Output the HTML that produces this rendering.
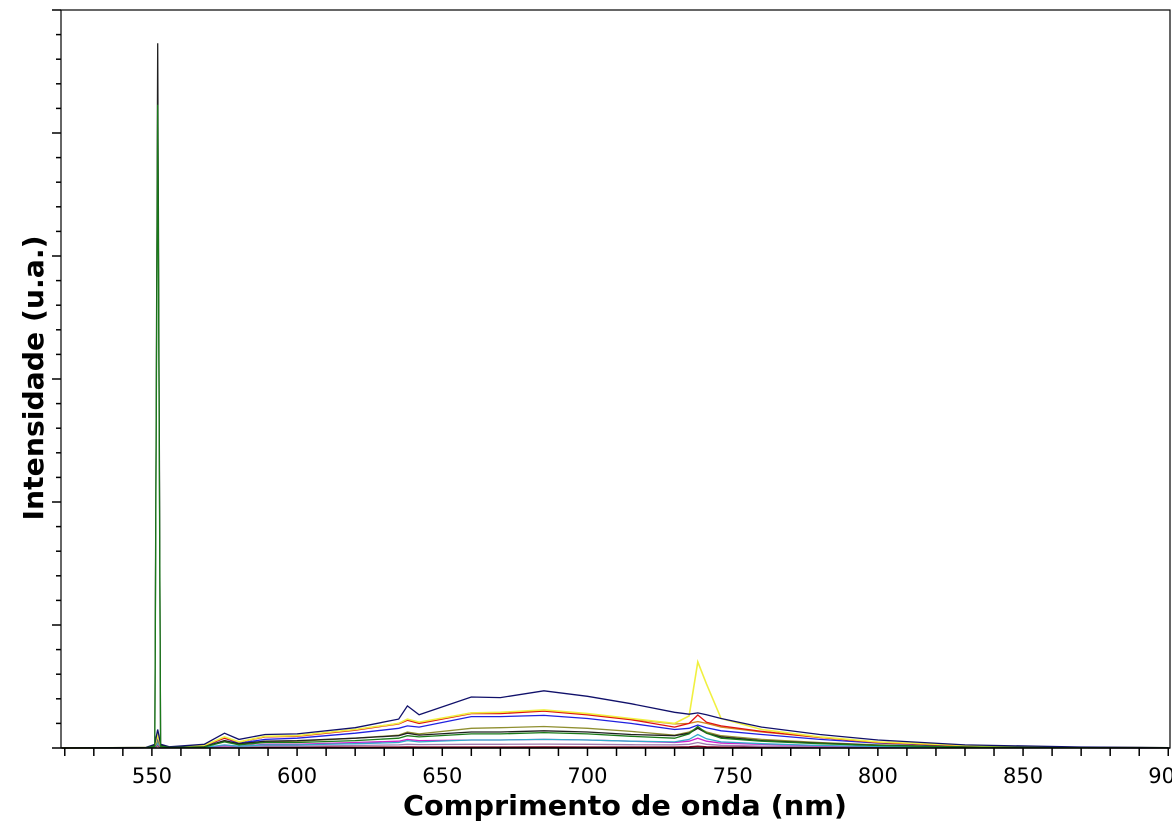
<!DOCTYPE html>
<html><head><meta charset="utf-8"><style>
html,body{margin:0;padding:0;background:#fff;}
svg{display:block;}
</style></head><body>
<svg id="chart" width="1172" height="823" xmlns="http://www.w3.org/2000/svg" font-family="'DejaVu Sans', 'Liberation Sans', sans-serif">
<g id="series"></g>
<g id="axes"></g>
<text x="625" y="815" text-anchor="middle" font-size="28" font-weight="bold" textLength="444" lengthAdjust="spacingAndGlyphs">Comprimento de onda (nm)</text>
<text transform="translate(43,378) rotate(-90)" text-anchor="middle" font-size="28" font-weight="bold" textLength="285" lengthAdjust="spacingAndGlyphs">Intensidade (u.a.)</text>
</svg>
<script>
const wavelengths = [519,548,551,552,553,556,568,575,580,589,600,620,635,638,642,660,670,685,700,715,730,735,738,741,746,760,780,800,830,870,900];
const navy = [0,5,30,150,30,10,30,120,70,110,115,165,235,342,270,415,410,465,420,360,290,275,285,270,240,170,110,65,25,8,3];
const yellow = [0,3,20,100,20,8,20,90,50,95,100,150,200,235,210,285,290,310,280,240,200,260,700,520,240,150,90,50,20,5,2];
const orange = [0,3,20,100,20,8,20,85,50,90,100,150,200,228,205,285,285,305,275,235,195,200,215,200,170,130,85,45,18,5,2];
const red = [0,3,20,100,20,8,20,80,50,90,95,145,195,225,200,280,280,300,270,230,170,200,268,210,180,135,85,45,18,5,2];
const blue = [0,3,15,80,15,5,15,80,40,70,80,120,160,180,170,255,255,265,240,200,150,160,187,165,140,110,70,40,15,4,1];
const olive = [0,2,10,60,10,4,10,55,30,50,55,80,105,130,115,160,165,175,160,135,105,130,165,130,100,70,45,25,10,3,1];
const cyan = [0,1,8,40,8,3,5,25,15,25,25,35,45,60,50,65,65,70,65,55,50,70,110,75,50,35,20,12,5,2,0];
const magenta = [0,1,8,40,8,3,5,20,15,30,30,45,55,70,60,65,65,70,65,55,45,55,80,55,40,30,18,10,4,1,0];
const purple = [0,1,5,30,5,2,3,10,8,15,15,20,25,30,28,30,30,32,30,27,25,30,45,30,22,15,10,6,3,1,0];
const darkred = [0,1,3,20,3,1,2,4,4,6,6,7,8,9,8,8,8,9,8,8,8,10,15,10,8,6,4,3,2,1,0];
const black = [0,2,20,5730,20,4,10,60,35,55,60,80,100,120,105,130,130,140,130,110,100,120,160,120,90,60,40,22,8,2,1];
const green = [0,2,15,5230,15,4,8,50,25,45,45,60,80,100,90,115,115,125,115,95,80,115,175,120,80,55,35,20,8,2,1];
const xTickLabels = [550,600,650,700,750,800,850,900];

const X0=61, X1=1170, Y0=748, Y1=10;
const xMin=518.7, xMax=900.6, yMin=0, yMax=6000;
const xs = v => X0 + (v-xMin)/(xMax-xMin)*(X1-X0);
const ys = v => Y0 - (v-yMin)/(yMax-yMin)*(Y0-Y1);
const NS="http://www.w3.org/2000/svg";
const sg=document.getElementById('series');
const ax=document.getElementById('axes');

const seriesList = [
 ['series-dark-red',darkred,'#800020'],
 ['series-purple',purple,'#a07ab0'],
 ['series-magenta',magenta,'#cc22cc'],
 ['series-cyan',cyan,'#33aacc'],
 ['series-olive',olive,'#8f8f30'],
 ['series-blue',blue,'#2020e0'],
 ['series-orange',orange,'#d08820'],
 ['series-red',red,'#e01010'],
 ['series-yellow',yellow,'#f0f040'],
 ['series-navy',navy,'#10106a'],
 ['series-black',black,'#202020'],
 ['series-green',green,'#1a7a1a']
];
for (const [nm,vals,col] of seriesList){
  const p=document.createElementNS(NS,'polyline');
  
  
  p.setAttribute('points', vals.map((v,i)=>xs(wavelengths[i]).toFixed(1)+','+ys(v).toFixed(1)).join(' '));
  p.setAttribute('fill','none');
  p.setAttribute('stroke',col);
  p.setAttribute('stroke-width', nm==='series-yellow'?'1.6':'1.3');
  sg.appendChild(p);
}

function line(x1,y1,x2,y2,name){
  const l=document.createElementNS(NS,'line');
  
  
  l.setAttribute('x1',x1);l.setAttribute('y1',y1);l.setAttribute('x2',x2);l.setAttribute('y2',y2);
  l.setAttribute('stroke','#000');l.setAttribute('stroke-width','1.5');
  ax.appendChild(l);
}
const r=document.createElementNS(NS,'rect');


r.setAttribute('x',X0);r.setAttribute('y',Y1);r.setAttribute('width',X1-X0);r.setAttribute('height',Y0-Y1);
r.setAttribute('fill','none');r.setAttribute('stroke','#000');r.setAttribute('stroke-width','1.2');
ax.appendChild(r);
line(X0,Y0,X1,Y0,'x-axis-line');
for(let w=520; w<=900; w+=10){
  line(xs(w),Y0,xs(w),Y0+8,'x-tick');
}
for(const t of xTickLabels){
  const tx=document.createElementNS(NS,'text');
  
  
  tx.setAttribute('x',xs(t));tx.setAttribute('y',783);
  tx.setAttribute('text-anchor','middle');tx.setAttribute('font-size','21');
  tx.textContent=t;
  ax.appendChild(tx);
}
for(let i=0;i<=30;i++){
  const v=i*200;
  const y=ys(v);
  const major=(i%5===0);
  line(X0-(major?9:5),y,X0,y,'y-tick');
}
</script>
</body></html>
